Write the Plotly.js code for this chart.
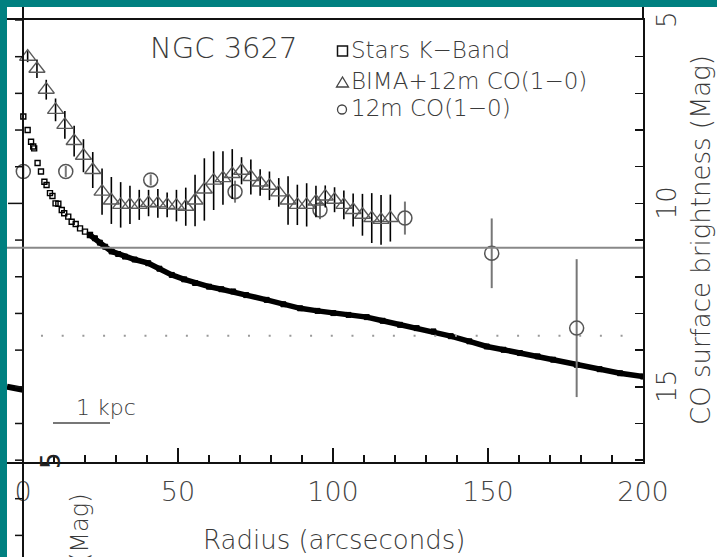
<!DOCTYPE html>
<html>
<head>
<meta charset="utf-8">
<script src="https://cdn.plot.ly/plotly-3.0.1.min.js"></script>
<style>
  html, body { margin:0; padding:0; background:#008080; width:717px; height:557px; overflow:hidden; }
  #chart { position:absolute; left:7px; top:7px; width:710px; height:550px; background:#fff; }
</style>
</head>
<body>
<div id="chart"></div>
<script>
// ---- data ----
const starsR = [0.1, 1.5, 2.6, 3.3, 3.6, 4.7, 5.8, 6.9, 7.6, 8.7, 9.5, 10.5, 11.4, 12.5, 13.3, 14.6, 15.7, 17.0, 18.4, 20.0, 21.6, 23.2,
  24.8, 26.5, 28.6, 30.7, 32.9, 36, 40.4, 44, 48, 52, 55.5, 60, 64, 67.8, 72, 78.6, 84, 89.4, 95, 100.1, 105, 110.9, 116, 121.6,
  127, 132.4, 138, 144, 149.6, 155, 160.3, 166, 171, 178.6, 186, 192.6, 200];
const starsMag = [7.63, 8.00, 8.32, 8.45, 8.50, 8.90, 9.13, 9.41, 9.50, 9.72, 9.80, 10.00, 10.01, 10.18, 10.27, 10.36, 10.50, 10.56, 10.68, 10.77, 10.86, 10.95,
  11.07, 11.18, 11.31, 11.38, 11.45, 11.53, 11.63, 11.78, 11.95, 12.07, 12.17, 12.27, 12.34, 12.40, 12.50, 12.63, 12.75, 12.86, 12.93, 12.99, 13.04, 13.10, 13.20, 13.31,
  13.40, 13.49, 13.62, 13.76, 13.90, 13.99, 14.08, 14.17, 14.26, 14.40, 14.52, 14.63, 14.72];

const bimaR = [1.5, 4.5, 7.5, 10.5, 13.5, 16.5, 19.5, 22.5, 25.5, 28.5, 31.5, 34.5, 37.5, 40.5, 43.5, 46.5, 49.5, 52.5, 55.5, 58.5,
  61.5, 64.5, 67.5, 70.5, 73.5, 76.5, 79.5, 82.5, 85.5, 88.5, 91.5, 94.5, 97.5, 100.5, 103.5, 106.5, 109.5, 112.5, 115.5, 118.5];
const bimaMag = [6.00, 6.33, 6.90, 7.45, 7.86, 8.30, 8.70, 9.09, 9.68, 9.92, 10.04, 10.04, 10.04, 9.99, 10.00, 10.04, 10.06, 10.09, 9.92, 9.62,
  9.38, 9.31, 9.20, 9.11, 9.28, 9.43, 9.52, 9.70, 9.92, 10.04, 10.04, 9.95, 9.81, 9.90, 10.04, 10.18, 10.31, 10.40, 10.45, 10.40];
const bimaErr = [0.15, 0.25, 0.27, 0.31, 0.38, 0.42, 0.45, 0.49, 0.63, 0.64, 0.62, 0.52, 0.41, 0.36, 0.39, 0.34, 0.43, 0.52, 0.70, 0.85,
  0.80, 0.73, 0.68, 0.37, 0.48, 0.36, 0.39, 0.39, 0.66, 0.55, 0.59, 0.43, 0.30, 0.34, 0.39, 0.45, 0.57, 0.68, 0.68, 0.64];

const twelveR = [0.1, 13.8, 41.2, 68.4, 95.8, 123.2, 151.2, 178.6];
const twelveMag = [9.13, 9.13, 9.36, 9.68, 10.18, 10.40, 11.36, 13.40];
const twelveErr = [0.15, 0.15, 0.15, 0.30, 0.25, 0.45, 0.95, 1.88];

// fragment of the neighbouring panel's curve, left of the r = 0 axis
const prevPanelR = [-5.16, 0];
const prevPanelMag = [15.0, 15.08];

const xTickVals = [0, 50, 100, 150, 200];
const xTickText = ['0', '50', '100', '150', '200'];
const yTickVals = [5, 10, 15];
const yTickText = ['5', '10', '15'];
const leftTickMags = [5, 6, 7, 8, 9, 10, 11, 12, 13, 14, 15, 16, 17];
const refLineMag = 11.21;     // solid grey line
const dottedLineMag = 13.61;  // dotted grey line

const legendLabels = ['Stars K\u2212Band', 'BIMA+12m CO(1\u22120)', '12m CO(1\u22120)'];
const galaxyName = 'NGC 3627';
const xTitle = 'Radius (arcseconds)';
const yTitle = 'CO surface brightness (Mag)';

// ---- geometry helpers (page pixel -> paper) ----
const W = 710, H = 550, ML = 0, MR = 74, MT = 13, MB = 95;
const PW = W - ML - MR, PH = H - MT - MB;
const px = X => (X - 7 - ML) / PW;
const py = Y => (H - MB - (Y - 7)) / PH;

const FONT = 'DejaVu Sans, Verdana, sans-serif';
const TXT = '#3a3a3a';
const WT = 200;
const f = (size, color, weight) => ({ family: FONT, size: size, color: color || TXT, weight: weight || WT });

const split = starsR.findIndex(r => r > 23);
const traces = [
  { x: prevPanelR, y: prevPanelMag, mode: 'lines', line: { color: '#000', width: 6 }, hoverinfo: 'skip' },
  { x: starsR.slice(0, split), y: starsMag.slice(0, split), mode: 'markers', name: legendLabels[0],
    marker: { symbol: 'square-open', size: 5, color: '#000', line: { width: 1.4 } } },
  { x: starsR.slice(split - 1), y: starsMag.slice(split - 1), mode: 'lines+markers',
    line: { color: '#000', width: 5.5 },
    marker: { symbol: 'square', size: 5, color: '#000', line: { width: 1, color: '#000' } } },
  { x: twelveR, y: twelveMag, mode: 'markers', name: legendLabels[2],
    marker: { symbol: 'circle-open', size: 14, color: '#555', line: { width: 1.5 } },
    error_y: { type: 'data', array: twelveErr, visible: true, color: '#777', thickness: 2, width: 0 } },
  { x: bimaR, y: bimaMag, mode: 'markers', name: legendLabels[1],
    marker: { symbol: 'triangle-up-open', size: 14, color: '#5a5a5a', line: { width: 1.4 } },
    error_y: { type: 'data', array: bimaErr, visible: true, color: '#000', thickness: 1.6, width: 0 } }
];

const shapes = [];
// left axis line at r = 0, extending above and below the frame
shapes.push({ type: 'line', xref: 'paper', yref: 'paper', x0: px(23), x1: px(23), y0: py(557), y1: py(7), line: { color: '#111', width: 2 } });
// right axis extension to the top
shapes.push({ type: 'line', xref: 'paper', yref: 'paper', x0: 1, x1: 1, y0: 1, y1: py(7), line: { color: '#111', width: 2 } });
// left axis ticks
leftTickMags.forEach(m => {
  shapes.push({ type: 'line', xref: 'paper', yref: 'y', x0: px(m === 10 ? 8 : 15), x1: px(23), y0: m, y1: m, line: { color: '#111', width: 1.5 } });
});
[498.7, 535.4].forEach(Y => {
  shapes.push({ type: 'line', xref: 'paper', yref: 'paper', x0: px(15), x1: px(23), y0: py(Y), y1: py(Y), line: { color: '#111', width: 1.5 } });
});
// reference lines
shapes.push({ type: 'line', xref: 'paper', yref: 'y', x0: 0, x1: 1, y0: refLineMag, y1: refLineMag, line: { color: '#888', width: 2 } });
shapes.push({ type: 'line', xref: 'x', yref: 'y', x0: 5.8, x1: 195, y0: dottedLineMag, y1: dottedLineMag, line: { color: '#999', width: 2, dash: '2px,18.7px' } });
// 1 kpc bar
shapes.push({ type: 'line', xref: 'paper', yref: 'paper', x0: px(53), x1: px(110), y0: py(423), y1: py(423), line: { color: '#777', width: 2 } });
// legend symbols
shapes.push({ type: 'rect', xref: 'paper', yref: 'paper', x0: px(337.5), x1: px(347.5), y0: py(56), y1: py(46), line: { color: '#111', width: 1.5 } });
shapes.push({ type: 'path', xref: 'paper', yref: 'paper',
  path: `M ${px(336.5)},${py(87)} L ${px(348.5)},${py(87)} L ${px(342.5)},${py(77)} Z`, line: { color: '#444', width: 1.3 } });
shapes.push({ type: 'circle', xref: 'paper', yref: 'paper', x0: px(337.5), x1: px(346.5), y0: py(114), y1: py(105), line: { color: '#444', width: 1.3 } });

const annotations = [];
const ann = (o) => annotations.push(Object.assign({ showarrow: false, xref: 'paper', yref: 'paper', xanchor: 'center', yanchor: 'middle', borderpad: 0 }, o));
ann({ text: galaxyName, x: px(223), y: py(47.5), font: f(29) });
[49.5, 80, 107].forEach((Y, i) => ann({ text: legendLabels[i], x: px(350), y: py(Y + 1), xanchor: 'left', font: f(23) }));
ann({ text: '1 kpc', x: px(105.5), y: py(407), font: f(22) });
ann({ text: xTitle, x: px(333.5), y: py(540), font: f(26) });
ann({ text: yTitle, x: px(701), y: py(240), textangle: -90, font: f(26) });
yTickVals.forEach((v, i) => ann({ text: yTickText[i], x: px(667), yref: 'y', y: v, textangle: -90, font: f(26) }));
ann({ text: '5', x: px(51), y: py(461), textangle: -90, font: f(26, '#222', 400) });
ann({ text: '(Mag)', x: px(80), y: py(528), textangle: -90, font: f(24) });

const layout = {
  width: W, height: H,
  margin: { l: ML, r: MR, t: MT, b: MB, pad: 0 },
  paper_bgcolor: '#fff', plot_bgcolor: '#fff',
  showlegend: false,
  font: { family: FONT, color: TXT, weight: WT },
  xaxis: {
    range: [-5.161, 200], tickmode: 'array', tickvals: xTickVals, ticktext: xTickText,
    ticks: 'inside', ticklen: 14, tickwidth: 1.5, tickcolor: '#111',
    showline: true, linewidth: 2, linecolor: '#111', mirror: true,
    showgrid: false, zeroline: false, automargin: false,
    tickfont: f(27, '#444'), ticklabelstandoff: 5,
    minor: { tickmode: 'linear', tick0: 0, dtick: 10, ticks: 'inside', ticklen: 7, tickwidth: 1.5, tickcolor: '#111', showgrid: false }
  },
  yaxis: {
    range: [17.05, 5], side: 'right', tickmode: 'array', tickvals: yTickVals,
    ticks: 'inside', ticklen: 8, tickwidth: 1.5, tickcolor: '#111', showticklabels: false,
    showline: true, linewidth: 2, linecolor: '#111', mirror: false,
    showgrid: false, zeroline: false, automargin: false,
    minor: { tickmode: 'linear', tick0: 5, dtick: 1, ticks: 'inside', ticklen: 8, tickwidth: 1.5, tickcolor: '#111', showgrid: false }
  },
  shapes: shapes,
  annotations: annotations
};

Plotly.newPlot('chart', traces, layout, { staticPlot: true, displayModeBar: false });
</script>
</body>
</html>
